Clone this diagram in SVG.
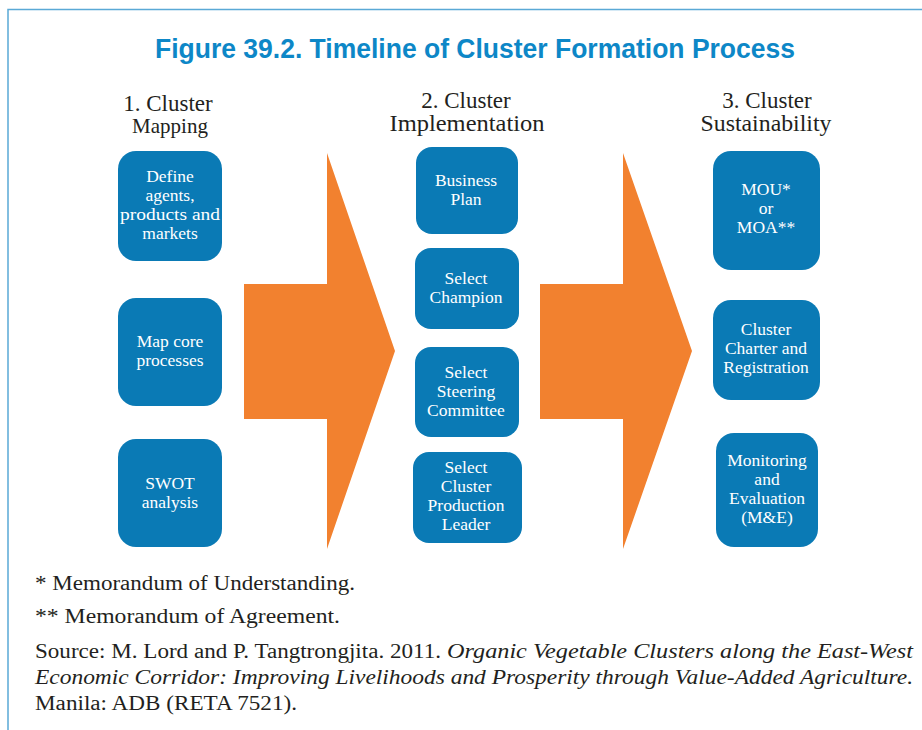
<svg xmlns="http://www.w3.org/2000/svg" width="922" height="730" viewBox="0 0 922 730">
<style>
.frame{stroke:#5aa9d6;stroke-width:1.5;fill:none}
.title{font-family:"Liberation Sans",Arial,sans-serif;font-weight:bold;font-size:27px;fill:#0d87c7}
.hdr{font-family:"Liberation Serif","Times New Roman",serif;font-size:23px;fill:#231f20;text-anchor:middle}
.box{fill:#0a7ab5}
.bt{font-family:"Liberation Serif","Times New Roman",serif;font-size:17.5px;fill:#ffffff;text-anchor:middle}
.arrow{fill:#f2812f}
.ft{font-family:"Liberation Serif","Times New Roman",serif;font-size:20px;fill:#231f20}
.it{font-style:italic}
</style>
<path class="frame" d="M8,730 V9.5 H922"/>
<text class="title" x="155" y="58" textLength="640" lengthAdjust="spacingAndGlyphs">Figure 39.2. Timeline of Cluster Formation Process</text>

<g id="headers">
<text class="hdr" x="168" y="111">1. Cluster</text>
<text class="hdr" x="170" y="133" style="font-size:21px">Mapping</text>
<text class="hdr" x="466" y="108">2. Cluster</text>
<text class="hdr" x="467" y="131" textLength="155" lengthAdjust="spacingAndGlyphs">Implementation</text>
<text class="hdr" x="767" y="108">3. Cluster</text>
<text class="hdr" x="766" y="131" textLength="131" lengthAdjust="spacingAndGlyphs">Sustainability</text>
</g>

<g id="connectors">
<path id="arrow1" class="arrow" d="M244,284 H327 V153 L395,351 L327,549 V419 H244 Z"/>
<path id="arrow2" class="arrow" d="M540,284 H623 V153 L692,351 L623,549 V419 H540 Z"/>
</g>

<g id="n-define"><rect class="box" x="118" y="151" width="104" height="110" rx="18"/>
<text class="bt" x="170" y="182">Define</text><text class="bt" x="170" y="201">agents,</text><text class="bt" x="170" y="220" textLength="100" lengthAdjust="spacingAndGlyphs">products and</text><text class="bt" x="170" y="239">markets</text></g>
<g id="n-map"><rect class="box" x="118" y="298" width="104" height="108" rx="18"/>
<text class="bt" x="170" y="347">Map core</text><text class="bt" x="170" y="366">processes</text></g>
<g id="n-swot"><rect class="box" x="118" y="439" width="104" height="108" rx="18"/>
<text class="bt" x="170" y="489">SWOT</text><text class="bt" x="170" y="508">analysis</text></g>

<g id="n-business"><rect class="box" x="416" y="147" width="102" height="87" rx="16"/>
<text class="bt" x="466" y="186">Business</text><text class="bt" x="466" y="205">Plan</text></g>
<g id="n-champion"><rect class="box" x="415" y="248" width="104" height="81" rx="16"/>
<text class="bt" x="466" y="284">Select</text><text class="bt" x="466" y="303">Champion</text></g>
<g id="n-steering"><rect class="box" x="415" y="347" width="104" height="90" rx="16"/>
<text class="bt" x="466" y="378">Select</text><text class="bt" x="466" y="397">Steering</text><text class="bt" x="466" y="416">Committee</text></g>
<g id="n-leader"><rect class="box" x="413" y="452" width="109" height="91" rx="16"/>
<text class="bt" x="466" y="473">Select</text><text class="bt" x="466" y="492">Cluster</text><text class="bt" x="466" y="511">Production</text><text class="bt" x="466" y="530">Leader</text></g>

<g id="n-mou"><rect class="box" x="713" y="151" width="107" height="119" rx="18"/>
<text class="bt" x="766" y="195">MOU*</text><text class="bt" x="766" y="214">or</text><text class="bt" x="766" y="233">MOA**</text></g>
<g id="n-charter"><rect class="box" x="713" y="300" width="107" height="100" rx="18"/>
<text class="bt" x="766" y="335">Cluster</text><text class="bt" x="766" y="354">Charter and</text><text class="bt" x="766" y="373">Registration</text></g>
<g id="n-me"><rect class="box" x="716" y="433" width="102" height="114" rx="18"/>
<text class="bt" x="767" y="466">Monitoring</text><text class="bt" x="767" y="485">and</text><text class="bt" x="767" y="504">Evaluation</text><text class="bt" x="767" y="523">(M&amp;E)</text></g>

<g id="footer">
<text class="ft" x="35" y="590" textLength="320" lengthAdjust="spacingAndGlyphs">* Memorandum of Understanding.</text>
<text class="ft" x="35" y="623" textLength="305" lengthAdjust="spacingAndGlyphs">** Memorandum of Agreement.</text>
<text class="ft" x="35" y="658" textLength="406" lengthAdjust="spacingAndGlyphs">Source: M. Lord and P. Tangtrongjita. 2011.</text>
<text class="ft it" x="447" y="658" textLength="466" lengthAdjust="spacingAndGlyphs">Organic Vegetable Clusters along the East-West</text>
<text class="ft it" x="35" y="684" textLength="878" lengthAdjust="spacingAndGlyphs">Economic Corridor: Improving Livelihoods and Prosperity through Value-Added Agriculture.</text>
<text class="ft" x="35" y="710" textLength="262" lengthAdjust="spacingAndGlyphs">Manila: ADB (RETA 7521).</text>
</g>
</svg>
